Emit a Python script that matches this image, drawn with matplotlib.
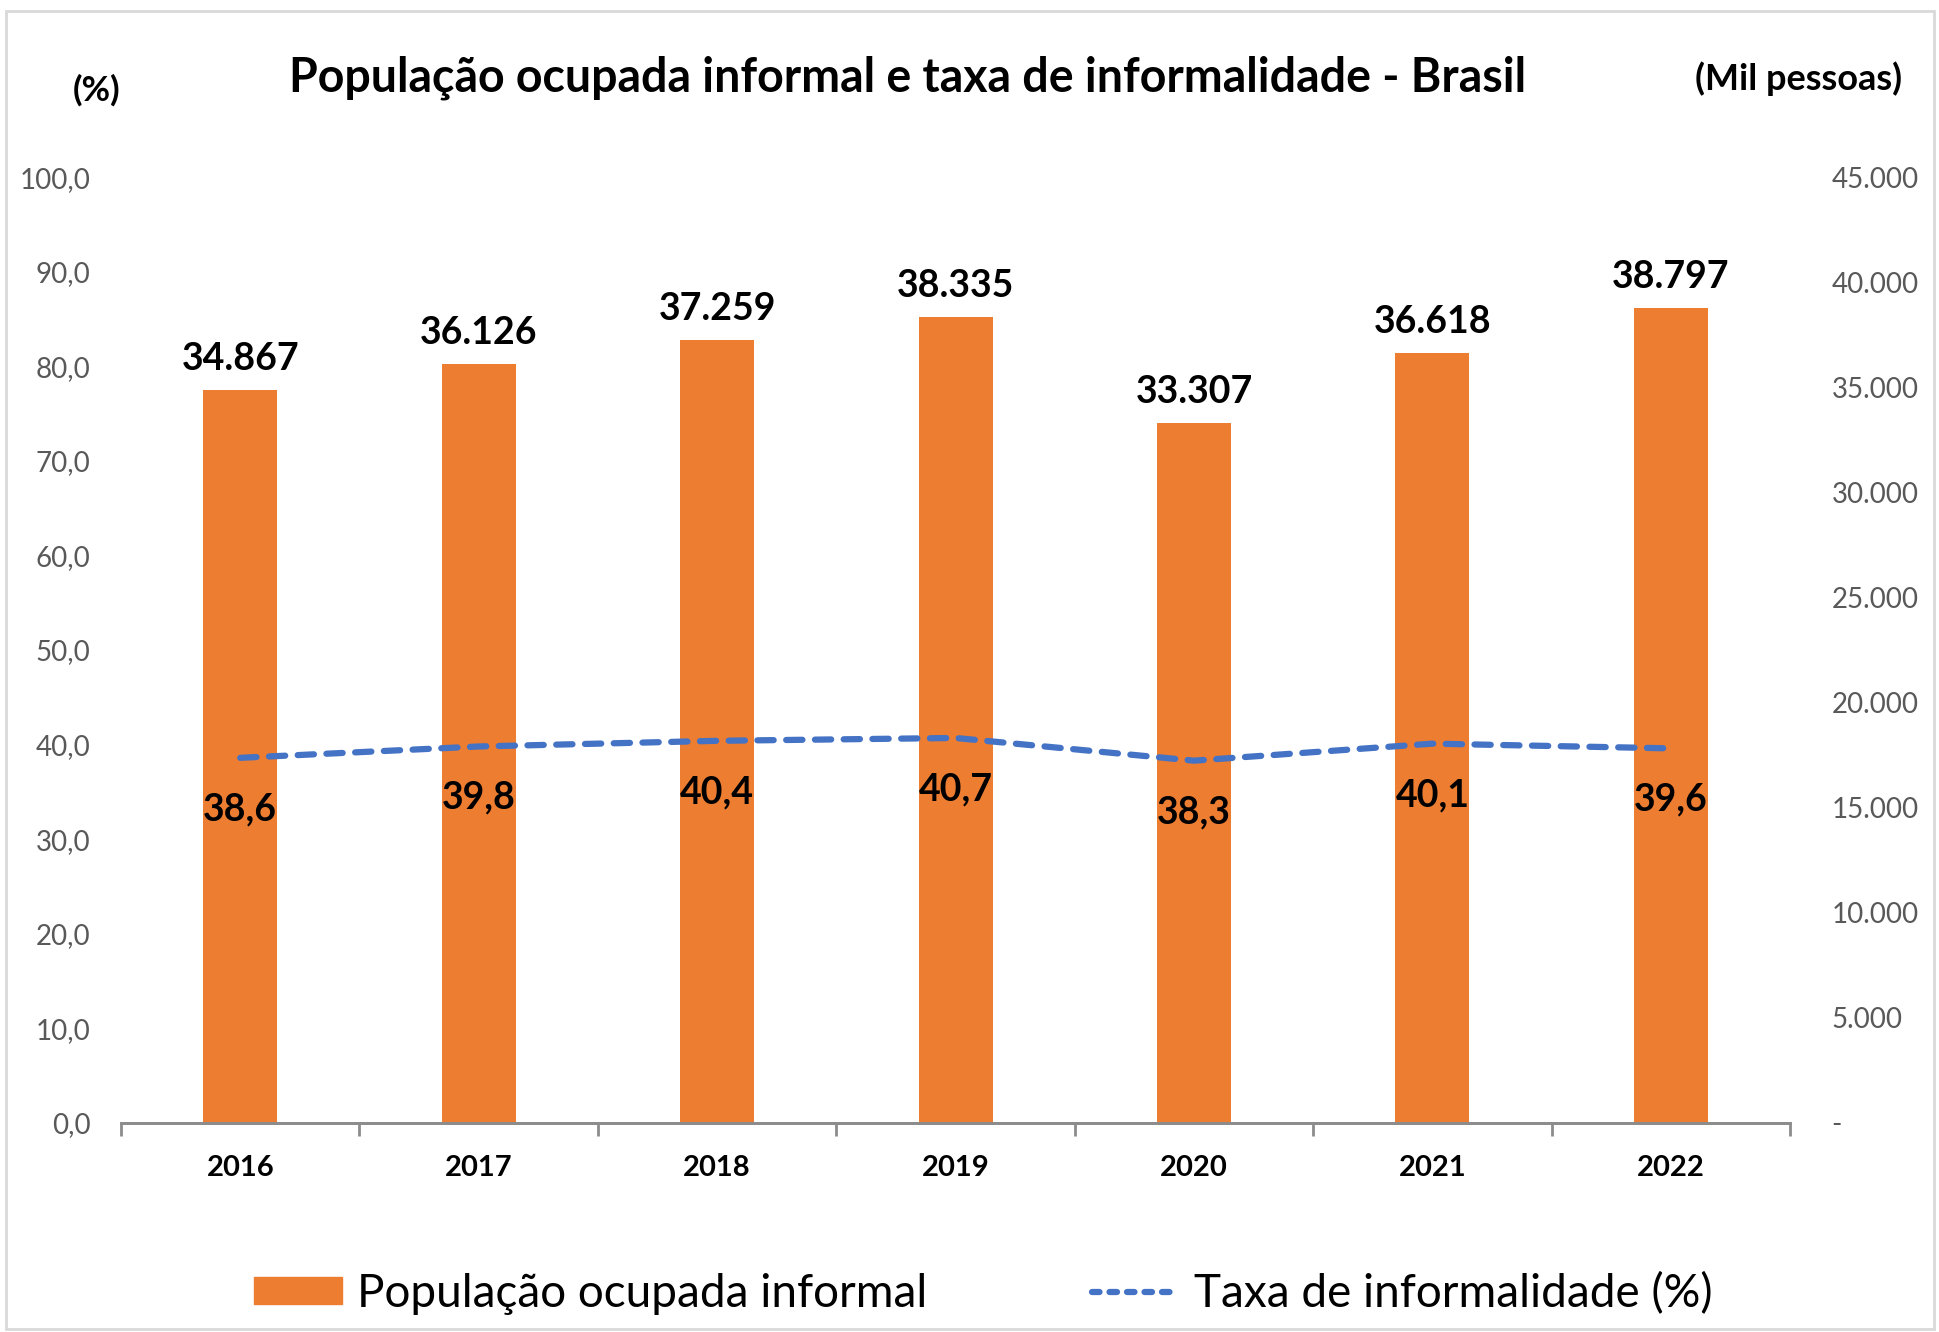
import numpy as np
import matplotlib
matplotlib.use("Agg")
import matplotlib.pyplot as plt
from matplotlib.patches import Rectangle
from matplotlib.lines import Line2D
from matplotlib.ticker import FuncFormatter

plt.rcParams['font.family'] = ['Lato', 'DejaVu Sans']

# data
anos = ["2016", "2017", "2018", "2019", "2020", "2021", "2022"]
pop_informal = [34867, 36126, 37259, 38335, 33307, 36618, 38797]   # mil pessoas
taxa = [38.6, 39.8, 40.4, 40.7, 38.3, 40.1, 39.6]                  # %

ORANGE = "#ED7D31"
BLUE = "#4472C4"
GRAY = "#595959"

fig = plt.figure(figsize=(19.4, 13.32), dpi=100)
fig.patch.set_facecolor("white")
# outer chart frame
fig.add_artist(Rectangle((0.003, 0.002), 0.994, 0.99, transform=fig.transFigure,
                         fill=False, edgecolor="#D9D9D9", lw=2))

ax = fig.add_axes([0.0624, 0.157, 0.8603, 0.71])
ax2 = ax.twinx()

x = np.arange(len(anos))

# bars on the secondary (right) axis
ax2.bar(x, pop_informal, width=0.31, color=ORANGE, zorder=2)
ax2.set_ylim(0, 45000)
for xi, v in zip(x, pop_informal):
    ax2.annotate(f"{v:,}".replace(",", "."), (xi, v), xytext=(0, 10),
                 textcoords="offset points", ha="center", va="bottom",
                 fontsize=27, fontweight="bold", color="black")

# line on primary (left) axis, drawn above bars
ax.set_zorder(ax2.get_zorder() + 1)
ax.patch.set_visible(False)
ax.plot(x, taxa, color=BLUE, lw=4.5, linestyle=(0, (2.6, 2.0)),
        dash_capstyle="round", zorder=3)
for xi, v in zip(x, taxa):
    ax.annotate(f"{v:.1f}".replace(".", ","), (xi, v), xytext=(0, -37),
                textcoords="offset points", ha="center", va="center",
                fontsize=27, fontweight="bold", color="black")

ax.set_ylim(0, 100)
ax.set_xlim(-0.5, len(anos) - 0.5)
ax.set_yticks(np.arange(0, 101, 10))
ax.yaxis.set_major_formatter(FuncFormatter(lambda v, p: f"{v:.1f}".replace(".", ",")))
ax.tick_params(axis="y", length=0, pad=22, labelsize=20, labelcolor=GRAY)

ax2.set_yticks(np.arange(0, 45001, 5000))
ax2.yaxis.set_major_formatter(FuncFormatter(
    lambda v, p: "-" if v == 0 else f"{int(v):,}".replace(",", ".")))
ax2.tick_params(axis="y", length=0, pad=30, labelsize=20, labelcolor=GRAY)
for lbl in ax2.get_yticklabels():
    lbl.set_horizontalalignment("left")

ax.set_xticks(x)
ax.set_xticklabels(anos, fontsize=21, fontweight="bold")
ax.tick_params(axis="x", which="major", length=0, pad=23)
ax.set_xticks(np.arange(-0.5, len(anos), 1), minor=True)
ax.tick_params(axis="x", which="minor", length=9, width=2, color="#8C8C8C")

for a in (ax, ax2):
    for s in ("top", "left", "right"):
        a.spines[s].set_visible(False)
    a.spines["bottom"].set_color("#8C8C8C")
    a.spines["bottom"].set_linewidth(2)

fig.text(0.468, 0.942, "População ocupada informal e taxa de informalidade - Brasil",
         ha="center", va="center", fontsize=33.5, fontweight="bold")
fig.text(0.05, 0.932, "(%)", ha="center", va="center", fontsize=25, fontweight="bold")
fig.text(0.927, 0.941, "(Mil pessoas)", ha="center", va="center", fontsize=26, fontweight="bold")

handles = [Rectangle((0, 0), 1, 1, color=ORANGE),
           Line2D([0], [0], color=BLUE, lw=4.5, linestyle=(0, (1.2, 1.6)),
                  dash_capstyle="round")]
fig.legend(handles, ["População ocupada informal", "Taxa de informalidade (%)"],
           loc="center", bbox_to_anchor=(0.507, 0.029), ncol=2, frameon=False,
           fontsize=33, handlelength=1.9, handleheight=0.52, handletextpad=0.33,
           columnspacing=3.6)

fig.savefig("out.png", dpi=100, facecolor="white")
